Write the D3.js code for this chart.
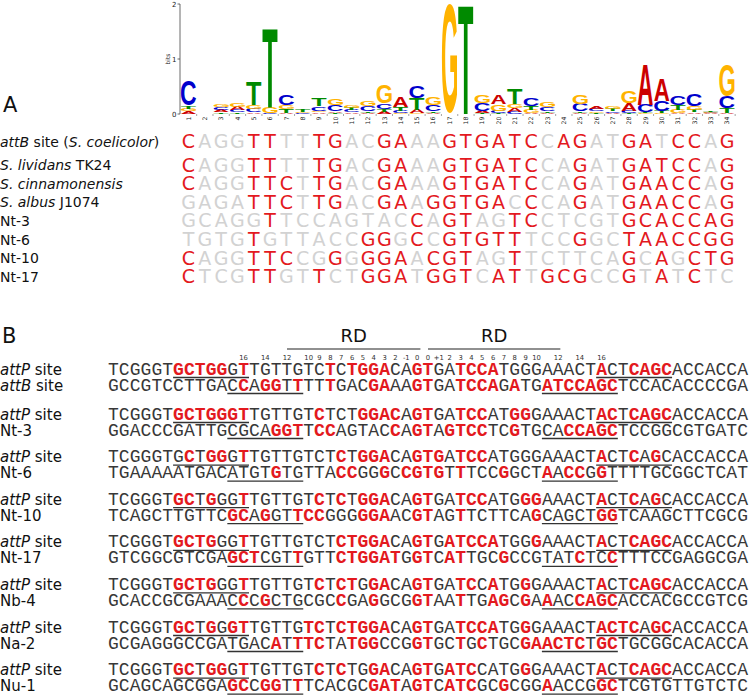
<!DOCTYPE html>
<html><head><meta charset="utf-8">
<script src="https://cdn.jsdelivr.net/npm/d3@7"></script>
<style>body{margin:0;background:#fff}</style>
</head><body>
<svg id="c" width="750" height="695"></svg>
<script>
// ---------- DATA ----------
const logoLabels = ["1","2","3","4","5","6","7","8","9","10","11","12","13","14","15","16","17","18","19","20","21","22","23","24","25","26","27","28","29","30","31","32","33","34"];
const logoA = [0.05,0,0.04,0.06,0.03,0,0.02,0,0.03,0.03,0.03,0.02,0.04,0.19,0.07,0.02,0,0,0.05,0.16,0.07,0.02,0.02,0,0.02,0.05,0.02,0.13,0.73,0.40,0.01,0.03,0.01,0.02];
const logoC = [0.45,0,0.05,0.04,0.06,0.02,0.19,0.01,0.08,0.12,0.04,0.09,0.10,0.04,0.22,0.12,0,0,0.13,0.04,0.04,0.13,0.07,0,0.13,0.04,0.03,0.05,0.14,0.18,0.17,0.22,0.015,0.21];
const logoG = [0.05,0,0.05,0.06,0.08,0.11,0.08,0.02,0.03,0.12,0.05,0.10,0.34,0.02,0.01,0.14,1.98,0,0.15,0.12,0.08,0.06,0.09,0,0.16,0.03,0.05,0.22,0.01,0.02,0.07,0.08,0.02,0.57];
const logoT = [0.05,0,0.03,0.03,0.42,1.45,0.07,0.04,0.14,0.02,0.04,0.03,0.05,0.07,0.21,0.03,0,1.98,0.01,0.02,0.27,0.07,0.03,0,0.03,0.02,0.04,0.01,0.02,0.04,0.08,0.04,0.03,0.09];
const logoTicks = ["0","1","2"];

const aLabels = ["*attB* site (*S. coelicolor*)","*S. lividans* TK24","*S. cinnamonensis*","*S. albus* J1074","Nt-3","Nt-6","Nt-10","Nt-17"];
const aSeqs = [
 "CAGGTTTTTGACGAAAGTGATCCAGATGATCCAG",
 "CAGGTTTTTGACGAAAGTGATCCAGATGATCCAG",
 "CAGGTTCTTGACGAAAGTGATCCAGATGAACCAG",
 "GAGATTCTTGACGAAGGTGACCCAGATGAACCAG",
 "GCAGGTTCCAGTACCAGTAGTCCTCGTGCACCAG",
 "TGTGTGTTACCGGGCCGTGTTTCCGGCTAACCGG",
 "CAGGTTCCGGGGGAACGTAGTTCTTCAGCAGCTG",
 "CTCGTTGTTCTGGATGGTCATTGCGCCGTATCTC"];
const aMasks = [
 "rgggrrggrrggrrggrrrrrrgrrggrrgrrgr",
 "rgggrrggrrggrrggrrrrrrggrggrrrrrgr",
 "rgggrrrgrrggrrggrrrrrrggrggrrrrrgr",
 "ggggrrrgrrggrrgrrrrrgrggrggrrrrrgr",
 "gggggrggggggggrgrrggrrgggggrrrrrrr",
 "ggggrggggggrrgrgrrrrrgggrggrrrrrrr",
 "rgggrrrggrgrrrgrrrggrggggggrgrgrrr",
 "rgggrrggrggrrrgrrrgrrgrrrggrgrgrgg"];

const attPLabel = "*attP* site";
const attPSeq = "TCGGGTGCTGGGTTGTTGTCTCTGGACAGTGATCCATGGGAAACTACTCAGCACCACCA";
const bLabels = ["*attB* site","Nt-3","Nt-6","Nt-10","Nt-17","Nb-4","Na-2","Nu-1"];
const bSeqs = [
 "GCCGTCCTTGACCAGGTTTTTGACGAAAGTGATCCAGATGATCCAGCTCCACACCCCGA",
 "GGACCCGATTGCGCAGGTTCCAGTACCAGTAGTCCTCGTGCACCAGCTCCGGCGTGATC",
 "TGAAAAATGACATGTGTGTTACCGGGCCGTGTTTCCGGCTAACCGGTTTTGCGGCTCAT",
 "TCAGCTTGTTCGCAGGTTCCGGGGGAACGTAGTTCTTCAGCAGCTGGTCAAGCTTCGCG",
 "GTCGGCGTCGAGCTCGTTGTTCTGGATGGTCATTGCGCCGTATCTCCTTTCCGAGGCGA",
 "GCACCGCGAAACCCGCTGCGCCGAGGCGGTAATTGAGCGAAACCAGCACCACGCCGTCG",
 "GCGAGGGCCGATGACATTTCTATGGCCGGTGCTGCTGCGAACTCTGCTGCGGCACACCA",
 "GCAGCAGCGGAGCCGGTTTCACGCGATAGTCATCGCGCGGAACCGGCTCGTGTTGTCTC"];
const attPRed = [
 [7,8,9,10,11,13,21,23,24,25,26,29,30,33,34,35,36,46,49,50,51,52],
 [7,8,9,10,11,12,13,20,24,25,26,27,29,30,33,34,35,38,39,46,47,49,50,51,52],
 [8,10,11,13,22,24,25,26,29,30,31,33,34,35,46,49,51],
 [7,8,10,13,20,22,24,25,26,29,30,33,34,35,39,40,46,49,51],
 [7,8,9,10,13,22,23,24,25,26,29,30,32,33,34,35,36,40,46,49,50,51,52],
 [7,8,9,10,13,20,22,23,25,26,29,30,33,34,36,39,46,49,50,51,52],
 [7,8,10,12,13,19,20,22,23,24,25,26,29,30,33,34,35,36,39,46,47,48,49,51,52],
 [7,8,10,11,13,20,22,25,26,29,30,32,33,34,39,46,49,50,51,52]];
const bRed = [
 [13,15,16,18,21,25,26,29,30,33,34,35,36,38,41,42,43,44,45,46,47],
 [16,17,18,20,21,27,29,30,32,33,34,35,38,43,44,45,46,47],
 [16,22,23,26,28,29,30,31,33,37,41,43,44,46],
 [12,13,15,18,19,20,24,25,26,29,30,33,40,46,47],
 [12,13,14,18,22,23,24,25,26,27,29,30,32,33,37,44,47],
 [13,15,22,25,29,30,33,36,37,39,41,44,45,46,47],
 [16,18,19,20,23,24,25,29,30,33,35,39,40,41,42,43,44,46,47],
 [12,13,15,16,18,25,26,27,29,30,32,33,34,37,41,46,47]];
const attPUnder = [[7,13],[46,52]];
const otherUnder = [[12,18],[41,47]];
const numLabels = ["16","14","12","10","9","8","7","6","5","4","3","2","-1","0","0","+1","2","3","4","5","6","7","8","9","10","12","14","16"];
const numPos = [13,15,17,19,20,21,22,23,24,25,26,27,28,29,30,31,32,33,34,35,36,37,38,39,40,42,44,46];
const rdLabels = ["RD","RD"];
const rdSpans = [[17,29.3],[30,42.2]];

// ---------- DRAW ----------
const svg = d3.select("#c");
const RED = "#e3191e", GRAY = "#d2d2d2", INK = "#383838";
const SANS = "'DejaVu Sans', Verdana, sans-serif";
const MONO = "'Liberation Mono', 'Courier New', monospace";

function richText(sel, str){
  str.split("*").forEach((part,i)=>{
    if(!part) return;
    sel.append("tspan").attr("font-style", i%2 ? "italic" : "normal").text(part);
  });
}

// panel letters
svg.append("text").attr("x",3).attr("y",112).attr("font-family",SANS).attr("font-size",21).attr("fill","#111").text("A");
svg.append("text").attr("x",2).attr("y",343).attr("font-family",SANS).attr("font-size",21).attr("fill","#111").text("B");

// ---- logo ----
const ax = d3.scaleLinear().domain([1,34]).range([188.5,727]);
const colW = ax(2)-ax(1);
const ly = d3.scaleLinear().domain([0,2]).range([114,4]);
const logoColors = {A:"#cc0000",C:"#0000cc",G:"#ffb300",T:"#008a00"};
const ctx = document.createElement("canvas").getContext("2d");
ctx.font = "bold 100px 'Liberation Sans'";
const inkCache = {};
function ink(ch){
  if(!inkCache[ch]){const m=ctx.measureText(ch);inkCache[ch]={l:m.actualBoundingBoxLeft,r:m.actualBoundingBoxRight,a:m.actualBoundingBoxAscent,d:m.actualBoundingBoxDescent};}
  return inkCache[ch];
}
const logoG_ = svg.append("g");
logoLabels.forEach((lab,i)=>{
  const stack = [["A",logoA[i]],["C",logoC[i]],["G",logoG[i]],["T",logoT[i]]].filter(d=>d[1]>0).sort((a,b)=>a[1]-b[1]);
  let base = 0;
  const w = colW*0.93, x0 = ax(i+1)-w/2;
  stack.forEach(([ch,h])=>{
    const yb = ly(base), yt = ly(base+h), hp = yb-yt;
    const m = ink(ch);
    logoG_.append("text").attr("font-family","'Liberation Sans', Arial, sans-serif").attr("font-weight","bold")
      .attr("font-size",100).attr("fill",logoColors[ch])
      .attr("transform",`translate(${x0},${yb}) scale(${w/(m.l+m.r)},${hp/(m.a+m.d)}) translate(${m.l},${-m.d})`)
      .text(ch);
    base += h;
  });
  svg.append("text").attr("transform",`translate(${ax(i+1)+2.2},${116.5}) rotate(-90)`)
    .attr("text-anchor","end").attr("font-family",SANS).attr("font-size",6.2).attr("fill","#222").text(lab);
  svg.append("line").attr("x1",ax(i+1)+colW/2).attr("x2",ax(i+1)+colW/2).attr("y1",114).attr("y2",116).attr("stroke","#666").attr("stroke-width",0.6);
});
svg.append("line").attr("x1",180).attr("x2",180).attr("y1",ly(2)).attr("y2",ly(0)).attr("stroke","#444").attr("stroke-width",0.8);
logoTicks.forEach(t=>{
  svg.append("line").attr("x1",177.5).attr("x2",180).attr("y1",ly(+t)).attr("y2",ly(+t)).attr("stroke","#444").attr("stroke-width",0.8);
  svg.append("text").attr("x",176.5).attr("y",ly(+t)+2.5).attr("text-anchor","end").attr("font-family",SANS).attr("font-size",7).attr("fill","#222").text(t);
});
svg.append("text").attr("transform","translate(170,59) rotate(-90)").attr("text-anchor","middle").attr("font-family",SANS).attr("font-size",6).attr("fill","#222").text("bits");

// ---- panel A sequences ----
aLabels.forEach((lab,i)=>{
  const yc = 141 + (i>0 ? 23.5 + (i-1)*18.65 : 0);
  richText(svg.append("text").attr("x",0).attr("y",yc+5.5).attr("font-family",SANS).attr("font-size",14).attr("fill","#111"), lab);
  const g = svg.append("g");
  aSeqs[i].split("").forEach((ch,j)=>{
    g.append("text").attr("x",ax(j+1)).attr("y",yc+7).attr("text-anchor","middle")
      .attr("font-family",SANS).attr("font-size",19)
      .attr("fill", aMasks[i][j]==="r" ? RED : GRAY).text(ch);
  });
});

// ---- panel B ----
const bx = d3.scaleLinear().domain([0.5,59.5]).range([108,748]);
rdSpans.forEach((s,i)=>{
  svg.append("line").attr("x1",bx(s[0])).attr("x2",bx(s[1])).attr("y1",349).attr("y2",349).attr("stroke","#222").attr("stroke-width",1.2);
  svg.append("text").attr("x",(bx(s[0])+bx(s[1]))/2).attr("y",342).attr("text-anchor","middle").attr("font-family",SANS).attr("font-size",18).attr("fill","#111").text(rdLabels[i]);
});
numLabels.forEach((t,i)=>{
  svg.append("text").attr("x",bx(numPos[i])).attr("y",359.5).attr("text-anchor","middle").attr("font-family",SANS).attr("font-size",6.8).attr("fill","#333").text(t);
});
function seqRow(seq, reds, unders, yc){
  const g = svg.append("g");
  const rs = new Set(reds);
  seq.split("").forEach((ch,j)=>{
    const red = rs.has(j+1);
    g.append("text").attr("x",bx(j+1)).attr("y",yc+5.5).attr("text-anchor","middle")
      .attr("font-family",MONO).attr("font-size",18).attr("font-weight",red?"bold":"normal")
      .attr("fill",red?RED:INK).text(ch);
  });
  unders.forEach(u=>{
    g.append("line").attr("x1",bx(u[0]-0.5)).attr("x2",bx(u[1]+0.5)).attr("y1",yc+8.5).attr("y2",yc+8.5).attr("stroke","#333").attr("stroke-width",1.3);
  });
}
bLabels.forEach((lab,k)=>{
  const yTop = k===0 ? 369 : 414 + (k-1)*42.6;
  const yBot = yTop + 16;
  richText(svg.append("text").attr("x",0).attr("y",yTop+5.5).attr("font-family",SANS).attr("font-size",15).attr("fill","#111"), attPLabel);
  richText(svg.append("text").attr("x",0).attr("y",yBot+5.5).attr("font-family",SANS).attr("font-size",15).attr("fill","#111"), lab);
  seqRow(attPSeq, attPRed[k], attPUnder, yTop);
  seqRow(bSeqs[k], bRed[k], otherUnder, yBot);
});
</script>
</body></html>
